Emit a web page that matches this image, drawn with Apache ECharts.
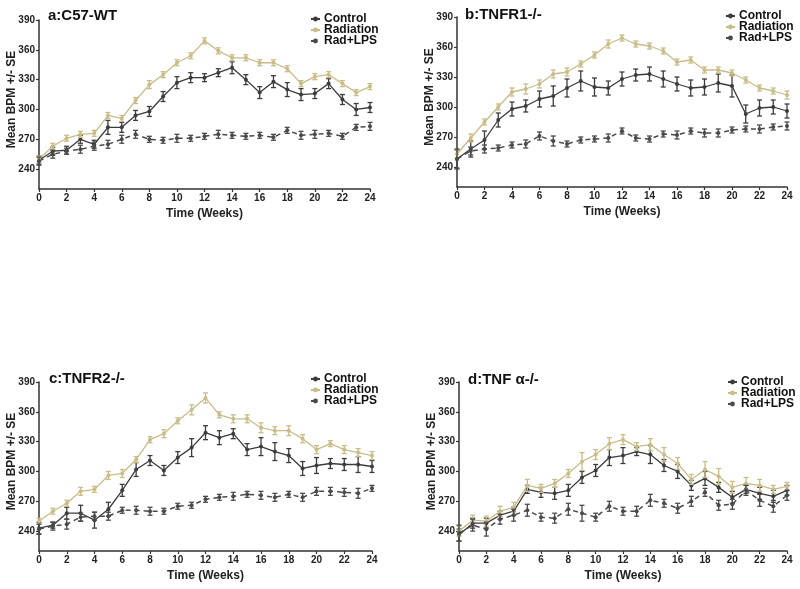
<!DOCTYPE html>
<html><head><meta charset="utf-8">
<script src="https://cdn.jsdelivr.net/npm/echarts@6/dist/echarts.min.js"></script>
<style>html,body{margin:0;padding:0;background:#fff}#c{width:800px;height:589px}</style>
</head><body><div id="c"></div>
<script>
const weeks = [0,1,2,3,4,5,6,7,8,9,10,11,12,13,14,15,16,17,18,19,20,21,22,23,24];
const yTicks = [240,270,300,330,360,390];
const seriesNames = ['Control','Radiation','Rad+LPS'];
const panelTitles = ['a:C57-WT','b:TNFR1-/-','c:TNFR2-/-','d:TNF α-/-'];
const xTitle = 'Time (Weeks)';
const yTitle = 'Mean BPM +/- SE';

// Panel a: C57-WT
const aControl   = [249,258,259,270,265,282,282,294,298,313,327,332,332,337,342,330,317,328,320,315,316,326,310,300,302];
const aControlSE = [4,4,4,4,4,7,5,5,5,5,6,5,4,4,6,5,6,6,7,6,5,5,5,6,5];
const aRad       = [250,263,271,275,276,294,291,309,325,335,347,354,369,359,352,352,347,347,341,326,333,335,326,317,323];
const aRadSE     = [3,3,3,3,3,3,3,3,4,3,3,3,3,3,3,3,3,3,3,3,3,3,3,3,3];
const aLps       = [248,255,258,260,263,265,270,275,270,269,271,271,273,275,274,273,274,272,279,274,275,276,273,282,283];
const aLpsSE     = [4,4,3,4,4,4,4,4,3,3,4,3,3,4,3,3,3,3,3,4,4,3,3,3,4];

// Panel b: TNFR1-/-
const bControl   = [248,258,267,287,298,301,308,311,319,326,320,319,328,332,333,328,323,319,320,324,321,293,299,300,296];
const bControlSE = [9,8,9,7,7,6,8,10,9,10,9,7,7,6,7,8,7,8,8,9,11,9,8,7,7];
const bRad       = [253,269,285,300,315,318,323,333,335,343,352,363,369,363,361,356,345,347,337,337,334,327,319,316,312];
const bRadSE     = [4,4,3,3,4,5,4,4,4,3,3,4,3,3,3,3,3,3,3,3,3,3,3,3,4];
const bLps       = [248,256,258,259,262,263,271,266,263,267,268,269,276,269,268,273,272,276,274,274,277,278,278,280,281];
const bLpsSE     = [10,4,4,3,3,4,4,5,3,3,3,4,3,3,3,3,4,3,4,4,3,3,4,3,4];

// Panel c: TNFR2-/-
const cControl   = [243,246,258,258,251,262,281,302,311,301,314,324,339,334,338,322,325,320,316,303,306,308,307,307,305];
const cControlSE = [6,3,6,8,8,7,6,7,5,5,6,9,7,7,5,6,9,9,7,7,8,5,6,8,6];
const cRad       = [250,260,268,280,282,296,298,312,332,338,351,362,374,357,353,353,344,341,341,333,322,328,322,319,316];
const cRadSE     = [3,3,3,4,3,4,4,3,3,4,3,5,5,3,4,4,5,4,5,4,4,3,4,4,4];
const cLps       = [242,245,247,254,255,255,261,261,260,260,265,266,272,274,275,277,276,274,277,274,280,280,279,278,283];
const cLpsSE     = [5,4,5,4,4,4,3,4,4,3,3,3,3,3,4,3,4,4,3,4,4,4,4,5,3];

// Panel d: TNF alpha-/-
const dControl   = [236,248,248,256,260,282,279,278,281,294,301,314,316,320,317,306,300,286,293,284,274,282,278,275,281];
const dControlSE = [6,5,5,4,4,4,5,6,6,6,6,8,8,4,9,6,7,5,7,5,6,4,6,6,5];
const dRad       = [240,251,250,260,264,286,283,288,298,310,317,328,332,325,327,317,308,292,302,295,284,288,286,282,285];
const dRadSE     = [5,5,5,5,5,6,4,4,4,9,5,6,5,4,6,7,6,5,8,8,6,6,6,4,4];
const dLps       = [238,246,242,252,256,261,254,253,262,258,254,265,260,260,271,268,263,270,279,266,267,281,271,265,276];
const dLpsSE     = [8,6,7,5,6,6,4,5,6,8,4,5,4,5,6,4,5,5,4,5,5,5,6,6,5];

const panels = [
  [[aControl,aControlSE],[aRad,aRadSE],[aLps,aLpsSE]],
  [[bControl,bControlSE],[bRad,bRadSE],[bLps,bLpsSE]],
  [[cControl,cControlSE],[cRad,cRadSE],[cLps,cLpsSE]],
  [[dControl,dControlSE],[dRad,dRadSE],[dLps,dLpsSE]]
];

const FONT = "'Liberation Sans', Arial, sans-serif";
const colors = ['#3c3c3c', '#c9bc88', '#4a4a4a'];
const grids = [
  {left: 39, top: 20, width: 331, height: 169},
  {left: 457, top: 17, width: 330, height: 170},
  {left: 39, top: 382, width: 333, height: 169},
  {left: 459, top: 382, width: 328, height: 169}
];
const titlePos = [[48,8],[465,7],[49,371],[468,372]];
const legendPos = [[310,13],[725,10],[310,373],[727,376]];

function errRender(color) {
  return function (params, api) {
    const x = api.value(0), lo = api.value(1), hi = api.value(2);
    const p1 = api.coord([x, hi]), p2 = api.coord([x, lo]);
    const w = 2.5;
    const style = {stroke: color, lineWidth: 1.3};
    return {type: 'group', children: [
      {type: 'line', shape: {x1: p1[0], y1: p1[1], x2: p2[0], y2: p2[1]}, style: style},
      {type: 'line', shape: {x1: p1[0]-w, y1: p1[1], x2: p1[0]+w, y2: p1[1]}, style: style},
      {type: 'line', shape: {x1: p2[0]-w, y1: p2[1], x2: p2[0]+w, y2: p2[1]}, style: style}
    ]};
  };
}

const xAxes = [], yAxes = [], series = [], titles = [], legends = [];
panels.forEach(function (panel, pi) {
  xAxes.push({
    type: 'value', gridIndex: pi, min: 0, max: 24, interval: 2,
    name: xTitle, nameLocation: 'middle', nameGap: 19,
    nameTextStyle: {fontFamily: FONT, fontSize: 12, fontWeight: 'bold', color: '#222'},
    axisLine: {lineStyle: {color: '#333', width: 1.5}},
    axisTick: {length: 3, lineStyle: {color: '#333', width: 1.2}},
    axisLabel: {fontFamily: FONT, fontSize: 10, fontWeight: 'bold', color: '#222', margin: 4},
    splitLine: {show: false}
  });
  yAxes.push({
    type: 'value', gridIndex: pi, min: 220, max: 390,
    name: yTitle, nameLocation: 'middle', nameGap: 21, nameMoveOverlap: false,
    nameTextStyle: {fontFamily: FONT, fontSize: 12, fontWeight: 'bold', color: '#222', padding: [0, 0, 0, 10]},
    axisLine: {show: true, lineStyle: {color: '#333', width: 1.5}},
    axisTick: {show: true, length: 3, customValues: yTicks, lineStyle: {color: '#333', width: 1.2}},
    axisLabel: {fontFamily: FONT, fontSize: 10, fontWeight: 'bold', color: '#222', margin: 4, customValues: yTicks},
    splitLine: {show: false}
  });
  titles.push({
    text: panelTitles[pi], left: titlePos[pi][0], top: titlePos[pi][1], padding: 0,
    textStyle: {fontFamily: FONT, fontSize: 15, fontWeight: 'bold', color: '#111', lineHeight: 16}
  });
  legends.push({
    left: legendPos[pi][0], top: legendPos[pi][1], orient: 'vertical', padding: 0,
    itemGap: -1, itemWidth: 9, itemHeight: 6, data: seriesNames,
    textStyle: {fontFamily: FONT, fontSize: 12, fontWeight: 'bold', color: '#111', lineHeight: 10, padding: [0,0,0,-1]}
  });
  panel.forEach(function (pair, si) {
    const vals = pair[0], se = pair[1];
    const color = colors[si];
    series.push({
      type: 'custom', name: seriesNames[si] + ' SE', xAxisIndex: pi, yAxisIndex: pi,
      renderItem: errRender(color), clip: false, silent: true, z: 3 + si,
      encode: {x: 0, y: [1, 2]},
      data: weeks.map(function (w, i) { return [w, vals[i] - se[i], vals[i] + se[i]]; })
    });
    series.push({
      type: 'line', name: seriesNames[si], xAxisIndex: pi, yAxisIndex: pi,
      data: weeks.map(function (w, i) { return [w, vals[i]]; }),
      symbol: 'circle', symbolSize: 4, z: 3 + si,
      itemStyle: {color: color},
      lineStyle: {color: color, width: si === 2 ? 1.5 : 1.3, type: si === 2 ? [5, 4] : 'solid'},
      animation: false
    });
  });
});

const chart = echarts.init(document.getElementById('c'), null, {renderer: 'canvas'});
chart.setOption({
  animation: false,
  backgroundColor: '#ffffff',
  title: titles,
  legend: legends,
  grid: grids,
  xAxis: xAxes,
  yAxis: yAxes,
  series: series
});
</script>
</body></html>
